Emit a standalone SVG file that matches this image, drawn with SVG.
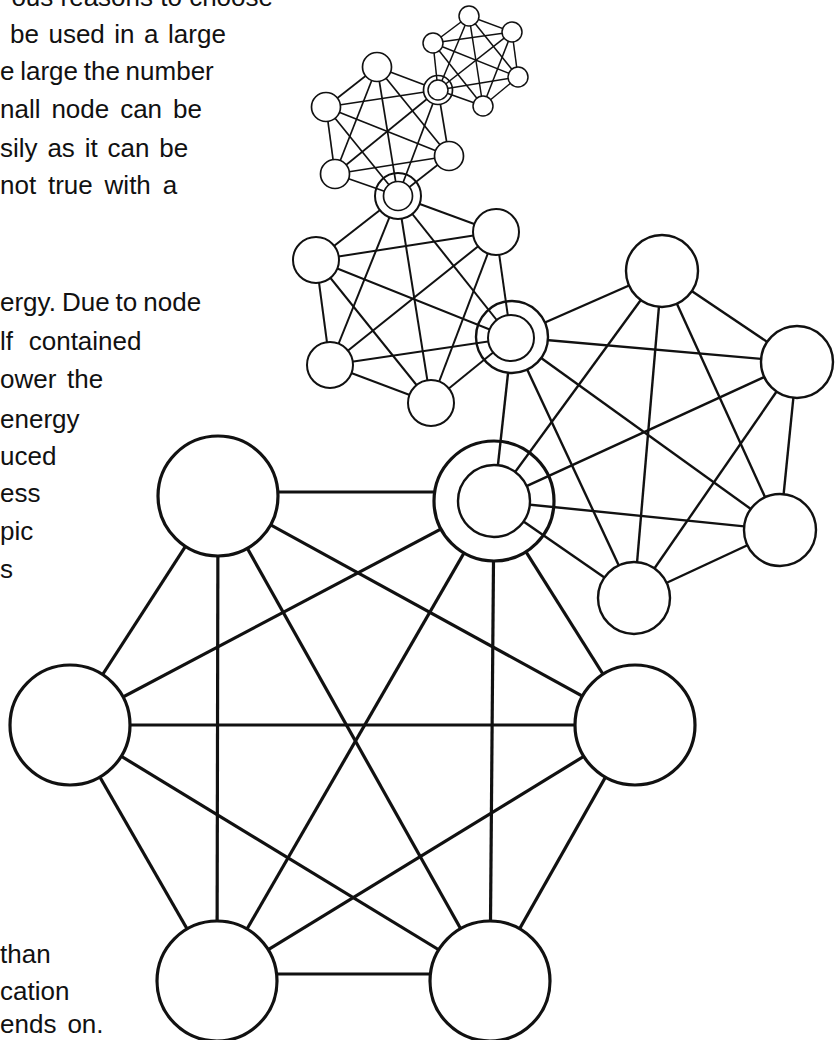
<svg xmlns="http://www.w3.org/2000/svg" width="838" height="1040" viewBox="0 0 838 1040">
<style>
text{font-family:"Liberation Sans",Arial,sans-serif;font-size:26px;fill:#111}
line,circle{stroke:#111}
circle{fill:#fff}
.l1{stroke-width:3.2}
.l2{stroke-width:2.4}
.l3{stroke-width:2}
.l4{stroke-width:1.7}
.l5{stroke-width:1.5}
</style>
<rect width="838" height="1040" fill="#fff"/>
<g id="text">
<text x="273" y="6" text-anchor="end">ous reasons to choose</text>
<text x="10" y="43" word-spacing="2.3">be used in a large</text>
<text x="0" y="80" word-spacing="-1.5">e large the number</text>
<text x="0" y="118" word-spacing="3.7">nall node can be</text>
<text x="0" y="157" word-spacing="2.6">sily as it can be</text>
<text x="0" y="194" word-spacing="4.6">not true with a</text>
<text x="0" y="311" word-spacing="-1.2">ergy. Due to node</text>
<text x="0" y="350" word-spacing="8.5">lf contained</text>
<text x="0" y="388" word-spacing="3.5">ower the</text>
<text x="0" y="428">energy</text>
<text x="0" y="465">uced</text>
<text x="0" y="502">ess</text>
<text x="0" y="540">pic</text>
<text x="0" y="578">s</text>
<text x="0" y="963">than</text>
<text x="0" y="1000">cation</text>
<text x="0" y="1033" word-spacing="3.8">ends on.</text>
</g>
<g id="connectors-level1" class="l1">
<line x1="218" y1="492" x2="494" y2="492"/>
<line x1="218" y1="496" x2="70" y2="725"/>
<line x1="218" y1="496" x2="635" y2="725"/>
<line x1="218" y1="496" x2="217" y2="981"/>
<line x1="218" y1="496" x2="490" y2="981"/>
<line x1="494" y1="501" x2="70" y2="725"/>
<line x1="494" y1="501" x2="635" y2="725"/>
<line x1="494" y1="501" x2="217" y2="981"/>
<line x1="494" y1="501" x2="490" y2="981"/>
<line x1="70" y1="725" x2="635" y2="725"/>
<line x1="70" y1="725" x2="217" y2="981"/>
<line x1="70" y1="725" x2="490" y2="981"/>
<line x1="635" y1="725" x2="217" y2="981"/>
<line x1="635" y1="725" x2="490" y2="981"/>
<line x1="217" y1="974" x2="490" y2="974"/>
</g>
<g class="l1">
<g id="n1-top-left"><circle cx="218" cy="496" r="60"/></g>
<g id="n1-hub"><circle cx="494" cy="501" r="60"/></g>
<g id="n1-left"><circle cx="70" cy="725" r="60"/></g>
<g id="n1-right"><circle cx="635" cy="725" r="60"/></g>
<g id="n1-bottom-left"><circle cx="217" cy="981" r="60"/></g>
<g id="n1-bottom-right"><circle cx="490" cy="981" r="60"/></g>
</g>
<g id="connectors-level2" class="l2">
<line x1="662" y1="271" x2="797" y2="362"/>
<line x1="662" y1="271" x2="780" y2="530"/>
<line x1="662" y1="271" x2="634" y2="598"/>
<line x1="662" y1="271" x2="494" y2="501"/>
<line x1="662" y1="271" x2="512" y2="337"/>
<line x1="797" y1="362" x2="780" y2="530"/>
<line x1="797" y1="362" x2="634" y2="598"/>
<line x1="797" y1="362" x2="494" y2="501"/>
<line x1="797" y1="362" x2="512" y2="337"/>
<line x1="780" y1="530" x2="634" y2="598"/>
<line x1="780" y1="530" x2="494" y2="501"/>
<line x1="780" y1="530" x2="512" y2="337"/>
<line x1="634" y1="598" x2="494" y2="501"/>
<line x1="634" y1="598" x2="512" y2="337"/>
<line x1="494" y1="501" x2="512" y2="337"/>
</g>
<g class="l2">
<g id="n2-top"><circle cx="662" cy="271" r="36"/></g>
<g id="n2-right-upper"><circle cx="797" cy="362" r="36"/></g>
<g id="n2-right-lower"><circle cx="780" cy="530" r="36"/></g>
<g id="n2-bottom"><circle cx="634" cy="598" r="36"/></g>
<g id="n2-hub-inner"><circle cx="494" cy="501" r="36"/></g>
<g id="n2-hub"><circle cx="512" cy="337" r="36"/></g>
</g>
<g id="connectors-level3" class="l3">
<line x1="496" y1="232" x2="316" y2="260"/>
<line x1="496" y1="232" x2="330" y2="365"/>
<line x1="496" y1="232" x2="431" y2="403"/>
<line x1="496" y1="232" x2="511" y2="338"/>
<line x1="496" y1="232" x2="398" y2="196"/>
<line x1="316" y1="260" x2="330" y2="365"/>
<line x1="316" y1="260" x2="431" y2="403"/>
<line x1="316" y1="260" x2="511" y2="338"/>
<line x1="316" y1="260" x2="398" y2="196"/>
<line x1="330" y1="365" x2="431" y2="403"/>
<line x1="330" y1="365" x2="511" y2="338"/>
<line x1="330" y1="365" x2="398" y2="196"/>
<line x1="431" y1="403" x2="511" y2="338"/>
<line x1="431" y1="403" x2="398" y2="196"/>
<line x1="511" y1="338" x2="398" y2="196"/>
</g>
<g class="l3">
<g id="n3-right"><circle cx="496" cy="232" r="23"/></g>
<g id="n3-left"><circle cx="316" cy="260" r="23"/></g>
<g id="n3-bottom-left"><circle cx="330" cy="365" r="23"/></g>
<g id="n3-bottom"><circle cx="431" cy="403" r="23"/></g>
<g id="n3-hub-inner"><circle cx="511" cy="338" r="23"/></g>
<g id="n3-hub"><circle cx="398" cy="196" r="23"/></g>
</g>
<g id="connectors-level4" class="l4">
<line x1="377" y1="67" x2="326" y2="107"/>
<line x1="377" y1="67" x2="335" y2="174"/>
<line x1="377" y1="67" x2="449" y2="156"/>
<line x1="377" y1="67" x2="398" y2="196"/>
<line x1="377" y1="67" x2="438" y2="90"/>
<line x1="326" y1="107" x2="335" y2="174"/>
<line x1="326" y1="107" x2="449" y2="156"/>
<line x1="326" y1="107" x2="398" y2="196"/>
<line x1="326" y1="107" x2="438" y2="90"/>
<line x1="335" y1="174" x2="449" y2="156"/>
<line x1="335" y1="174" x2="398" y2="196"/>
<line x1="335" y1="174" x2="438" y2="90"/>
<line x1="449" y1="156" x2="398" y2="196"/>
<line x1="449" y1="156" x2="438" y2="90"/>
<line x1="398" y1="196" x2="438" y2="90"/>
</g>
<g class="l4">
<g id="n4-top"><circle cx="377" cy="67" r="14.5"/></g>
<g id="n4-left"><circle cx="326" cy="107" r="14.5"/></g>
<g id="n4-bottom-left"><circle cx="335" cy="174" r="14.5"/></g>
<g id="n4-right"><circle cx="449" cy="156" r="14.5"/></g>
<g id="n4-hub-inner"><circle cx="398" cy="196" r="14.5"/></g>
<g id="n4-hub"><circle cx="438" cy="90" r="14.5"/></g>
</g>
<g id="connectors-level5" class="l5">
<line x1="469" y1="16" x2="433" y2="43"/>
<line x1="469" y1="16" x2="512" y2="32"/>
<line x1="469" y1="16" x2="518" y2="77"/>
<line x1="469" y1="16" x2="483" y2="106"/>
<line x1="469" y1="16" x2="438" y2="90"/>
<line x1="433" y1="43" x2="512" y2="32"/>
<line x1="433" y1="43" x2="518" y2="77"/>
<line x1="433" y1="43" x2="483" y2="106"/>
<line x1="433" y1="43" x2="438" y2="90"/>
<line x1="512" y1="32" x2="518" y2="77"/>
<line x1="512" y1="32" x2="483" y2="106"/>
<line x1="512" y1="32" x2="438" y2="90"/>
<line x1="518" y1="77" x2="483" y2="106"/>
<line x1="518" y1="77" x2="438" y2="90"/>
<line x1="483" y1="106" x2="438" y2="90"/>
</g>
<g class="l5">
<g id="n5-top"><circle cx="469" cy="16" r="10"/></g>
<g id="n5-left"><circle cx="433" cy="43" r="10"/></g>
<g id="n5-right-upper"><circle cx="512" cy="32" r="10"/></g>
<g id="n5-right-lower"><circle cx="518" cy="77" r="10"/></g>
<g id="n5-bottom"><circle cx="483" cy="106" r="10"/></g>
<g id="n5-hub-inner"><circle cx="438" cy="90" r="10"/></g>
</g>
</svg>
